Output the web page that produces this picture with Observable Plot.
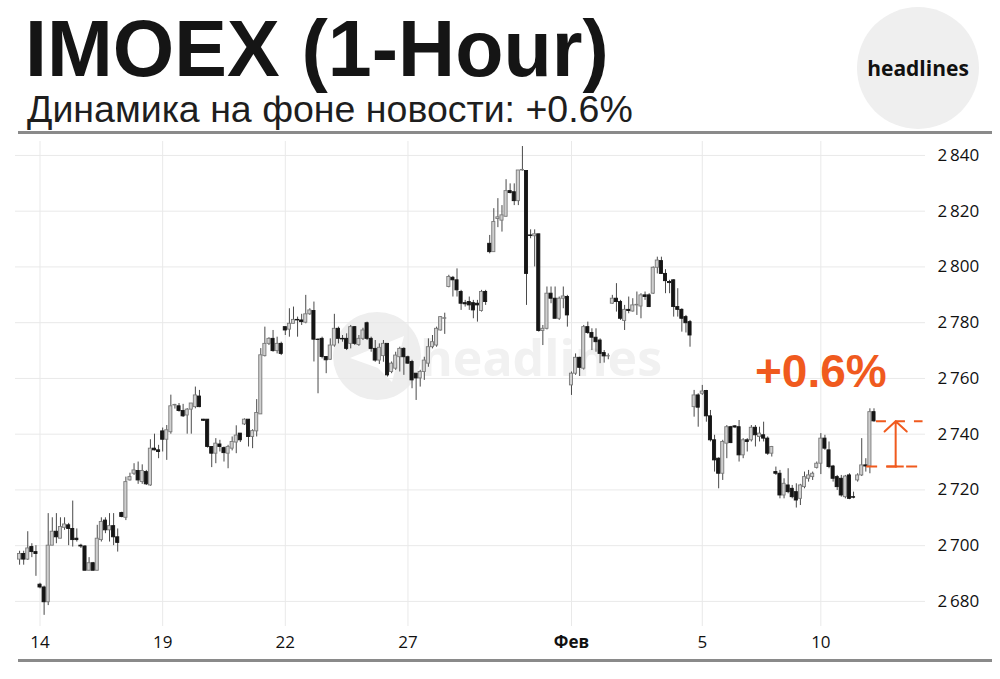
<!DOCTYPE html>
<html>
<head>
<meta charset="utf-8">
<script src="https://cdn.jsdelivr.net/npm/d3@7"></script>
<script src="https://cdn.jsdelivr.net/npm/@observablehq/plot@0.6"></script>
<style>
  body { margin: 0; background: #fff; }
  #page { position: relative; width: 1000px; height: 679px; overflow: hidden; background: #fff; font-family: "Liberation Sans", Arial, sans-serif; }
  #wm, #chart { position: absolute; left: 0; top: 0; }
  #title { position: absolute; left: 25px; top: 13px; font-size: 79px; font-weight: 700; line-height: 0.9; color: #151515; white-space: nowrap; }
  #subtitle { position: absolute; left: 27px; top: 91px; font-size: 37.5px; line-height: 1; color: #1e1e1e; white-space: nowrap; }
  .rule { position: absolute; left: 18px; width: 974px; height: 3px; background: #8a8a8a; }
  #logo { position: absolute; left: 857px; top: 7px; width: 122px; height: 122px; border-radius: 50%; background: #efefef; display: flex; align-items: center; justify-content: center; font-family: "Open Sans", sans-serif; font-weight: 700; font-size: 21px; color: #111; }
</style>
</head>
<body>
<div id="page">
  <svg id="wm" width="1000" height="679">
    <circle cx="377" cy="356" r="44" fill="#eeeeee"></circle>
    <polygon points="350,358 404,336 392,382 378,368" fill="#ffffff"></polygon>
    <text x="420" y="376" font-size="50" font-weight="700" fill="#f1f1f1" font-family="Open Sans, sans-serif">headlines</text>
  </svg>
  <div id="chart"></div>
  <div id="title">IMOEX (1-Hour)</div>
  <div id="subtitle">Динамика на фоне новости: +0.6%</div>
  <div class="rule" style="top:131px"></div>
  <div class="rule" style="top:659px"></div>
  <div id="logo">headlines</div>
</div>
<script>
// Hourly OHLC values
const open = [2695,2697,2695,2699.5,2697.7,2686,2685,2679.7,2700,2705,2702.5,2706.4,2707.3,2706,2702.5,2700,2699.7,2691,2693.7,2691,2702,2709,2705.5,2707,2703,2711.7,2710,
2723.4,2725.8,2726.8,2722.8,2726.4,2721.6,2734.8,2734.2,2741,2738,2740.7,2750.3,2750,2748.3,2746.7,2748.8,2749.7,2753.5,2745.2,2745.2,2735.4,2733,2736.3,2735,2733,2734.8,2737,2740.2,2743.5,2745.2,2739,2741,2747.1,
2768,2772.4,2774.2,2769.8,2772.4,2778.4,2777.5,2779.6,2781,2780.8,2780,2783,2784.2,2773.9,2774.2,2767.7,2766.7,2771.8,2777.8,2774.2,2774.2,2772.4,2778.4,2772,2774.2,2779.8,2774.2,2770.6,2766.4,2768,
2772.4,2762.3,2763.5,2767.6,2770.6,2767.6,2765.9,2761.7,2760,2762.3,2765.3,2771.2,2771.8,2777.2,2781.4,2792.8,2796.1,2795.2,2791,2787,2787.4,2787,2786.8,2784.2,2791,2808.3,2805.3,2817.2,2816.6,2818,
2827.2,2826.8,2823.6,2834.6,2834.4,2811.3,2811,2811.7,2777,2777.8,2790.4,2788.6,2781.4,2788.6,2789.2,2757.5,2761.7,2767.4,2763.5,2778.4,2776.3,2774.6,2773.6,2769.1,2767.9,2786.8,2788.6,2787.4,2780.6,2784.6,
2784,2786.2,2785.8,2789.8,2789.8,2790.4,2799.7,2802.1,2797.5,2794.6,2795.2,2785.6,2784.6,2782,2780.2,2749.7,2753.9,2754.5,2755.5,2746.4,2737.8,2731.2,2725.8,2736.6,2742.5,2742.8,2742.5,2732.4,2737.8,2737.8,
2742.3,2739,2739.6,2738.4,2733,2726.4,2725.8,2718,2721.6,2720.4,2719.2,2716.8,2721,2724,2724.6,2727.9,2729.4,2738.4,2734.2,2728.4,2724.6,2724,2717.4,2725.2,2717.4,2723.4,2725.2,2728.8,2728.4,2747.9];
const high = [2698,2698,2705,2700.7,2700,2686.5,2685.5,2711.5,2710,2711.5,2710,2710,2708,2716,2706,2700.5,2700,2695.7,2694,2707.3,2710,2710,2711.5,2711.5,2706,2712,2724.6,
2726,2729.4,2730,2729,2727,2738,2740,2736,2742.2,2743.1,2754,2750.7,2751,2750.7,2749.2,2751,2756.9,2755.7,2745.3,2745.2,2735.4,2738.4,2737.8,2735.4,2736,2739,2743,2740.2,2745.5,2745.2,2741.6,2752.4,2770.7,
2778.4,2774.6,2777.2,2774.8,2773,2778.4,2785,2785.6,2782,2783,2789.8,2785,2787.4,2774.2,2774.8,2767.7,2774.2,2783,2778.4,2775.4,2776,2779,2778.6,2775.4,2778,2780.2,2774.8,2773.6,2772.4,2773.6,
2772.4,2765.9,2769.4,2771.2,2771,2768,2766.5,2761.7,2762.9,2767.6,2774.2,2775.4,2778.4,2782.2,2783.4,2797,2796.6,2799.3,2791.6,2788,2789.2,2788,2788,2791.6,2791.6,2811.3,2820.9,2824.5,2822,2831.3,
2829.8,2829.8,2834.6,2843.2,2834.4,2813.3,2813.3,2811.7,2779,2792.8,2792.8,2792.8,2789.2,2792.8,2789.8,2762.3,2768.8,2767.6,2779,2780.2,2777.8,2777.8,2774.2,2770,2768.8,2789.8,2794,2788,2786.2,2789.2,
2788.6,2791,2790.4,2791,2790.4,2800,2803.5,2803.5,2799,2795.2,2795.4,2792.2,2785,2782.6,2780.8,2755.7,2754.5,2757.5,2755.7,2748.5,2739.6,2731.5,2737.8,2743.1,2742.8,2743.1,2744.9,2738.4,2738.4,2743.1,
2743.1,2742.5,2744.3,2739,2735.6,2728.2,2727,2724,2727.6,2721.6,2722.2,2722,2726.4,2727,2726.4,2730,2740.2,2739.6,2737.2,2728.8,2725.2,2725.2,2725.2,2725.8,2719.2,2725.8,2738.4,2731.2,2749.1,2749.1];
const low = [2693,2693,2694.7,2695.7,2689,2684.5,2675,2678.5,2700,2700.7,2702.5,2705.5,2700,2699.5,2701.3,2699,2691,2691,2691,2691,2701.3,2704.3,2701.3,2700,2697.7,2710,2709,
2723.2,2725.2,2722,2722,2721.6,2721.3,2734,2731.2,2733.6,2730.6,2740,2749,2747.9,2746,2740,2740,2749.1,2749.5,2744.6,2735,2728,2729.4,2733.6,2730,2727.6,2734,2733,2737,2743.1,2735.4,2734.8,2739,2747.1,
2767.7,2771.8,2769.4,2768.8,2768.2,2775.4,2774.8,2779.6,2774.8,2779,2779.6,2782.6,2765.9,2754.5,2767,2761.7,2766.5,2771.2,2772.4,2773,2770,2770.6,2771.8,2771.5,2773.6,2773.6,2769.4,2765.8,2765,2765.8,
2760.5,2761.7,2762.9,2762.3,2761.1,2765,2756.3,2752.1,2756.9,2759.3,2764,2770.6,2771.2,2777,2775.8,2792.5,2789.2,2789.2,2784.4,2785.6,2784.4,2781.4,2780.2,2783.8,2786.2,2804.7,2805.3,2814.1,2812.5,2817.9,
2826.2,2822,2822,2834.4,2786.2,2810.1,2800,2776.6,2771.8,2777.4,2786.8,2781.4,2780.8,2785,2778.4,2753.9,2761.1,2760.7,2763,2775.8,2770,2769.4,2765.3,2765.5,2766.7,2786.6,2783.8,2780.8,2777.2,2783.2,
2783.8,2782.6,2781.4,2788,2785.4,2790.1,2797.5,2797.3,2790.4,2790.4,2782,2782,2776.6,2776.3,2771.2,2746.1,2742.5,2753.9,2744.3,2737.2,2726.4,2720.4,2723.4,2731.2,2736.6,2742,2730,2731.2,2733.6,2737.2,
2735.4,2737.2,2737.2,2732.4,2731.8,2725.2,2716.8,2716.8,2718.6,2716.8,2713.5,2714.4,2720.4,2722.8,2723.4,2727.5,2725.5,2734.2,2727.6,2722.8,2719.8,2717.4,2716.8,2716.5,2716.8,2722.8,2724.8,2726.4,2725.8,2744.3];
const close = [2697,2695,2699,2697.7,2697,2685,2679.7,2700,2705,2703,2706.7,2707.6,2706,2702,2702,2699.7,2691,2693.7,2691,2702.5,2708.5,2705.5,2707,2703,2701,2710.3,2722.8,
2724.6,2727,2723.4,2726.8,2722,2734.8,2734.2,2733.6,2738,2741.4,2750,2750.5,2748.3,2746.4,2748.8,2751,2753.9,2749.7,2744.8,2735.4,2733,2736.6,2735.4,2733.2,2735.4,2737.2,2739.5,2737.8,2745.2,2739,2741.1,2747.6,2768.3,
2772.4,2774.2,2769.8,2772.4,2768.8,2777.2,2779.6,2781,2780.8,2780.2,2783,2784.4,2773.9,2773.8,2767.7,2766.5,2771.8,2777.8,2774.2,2774,2770.6,2778.4,2772.4,2774.2,2777.2,2774.2,2770.6,2766.4,2771,2772.4,
2761.1,2765.3,2768.2,2770.6,2767.6,2765.3,2759.3,2760,2762.3,2766.4,2771.2,2773,2777.8,2782,2781.6,2796.4,2795.2,2791.6,2786.8,2786.6,2786.2,2784.4,2786.2,2791,2787.4,2805.3,2816.1,2817.8,2818.5,2827.2,
2826.5,2823.6,2834.6,2834.8,2797.5,2811.1,2811.7,2777,2777.8,2790.4,2788.6,2781.4,2788.6,2789.4,2782.6,2761.7,2767.4,2763.8,2778.4,2776.3,2774.6,2773,2768.8,2767.9,2768,2788.6,2787.4,2781.4,2784.6,2784.2,
2786.2,2786.4,2789.8,2789.2,2785.6,2799.7,2802.3,2797.5,2794.9,2794.2,2785.6,2784.6,2781.4,2779.8,2775.4,2753.9,2749.5,2755.3,2746.4,2737.8,2730.6,2725.8,2737.2,2742.5,2736.8,2742.4,2732.4,2737.8,2737.2,2742.3,
2739.6,2740.2,2738.4,2733,2735.4,2725.8,2718,2722.2,2719.2,2717.4,2716.2,2721.6,2724.6,2725.2,2725.8,2729.4,2738.4,2734.8,2728.2,2724,2721,2718,2724.8,2716.8,2717.2,2725.2,2728.8,2728.4,2747.9,2744.6];

const yTicks = [2680, 2700, 2720, 2740, 2760, 2780, 2800, 2820, 2840];
const xTickBars = [5, 35, 65, 95, 135, 167, 196];
const xTickLabels = ["14", "19", "22", "27", "Фев", "5", "10"];

const candles = open.map((o, i) => ({i, open: o, high: high[i], low: low[i], close: close[i]}));
const up = candles.filter(d => d.close >= d.open);
const down = candles.filter(d => d.close < d.open);

const n = candles.length;
const last = candles[n - 1];
const base = candles[n - 3].close;        // close before the news candle
const pct = (last.close / base - 1) * 100;
const orange = "#f05a1e";
const fmtY = d => d3.format(",")(d).replace(",", "\u2009");

const chart = Plot.plot({
  width: 1000,
  height: 679,
  marginLeft: 15,
  marginRight: 75,
  marginTop: 141,
  marginBottom: 53,
  x: {domain: [-1, 221.6]},
  y: {domain: [2671, 2845]},
  style: {background: "transparent", fontFamily: "Open Sans, DejaVu Sans, sans-serif", color: "#111"},
  marks: [
    Plot.gridY(yTicks, {stroke: "#e9e9e9", strokeOpacity: 1}),
    Plot.gridX(xTickBars, {stroke: "#e9e9e9", strokeOpacity: 1}),
    Plot.ruleX(candles, {x: "i", y1: "low", y2: "high", stroke: "#4a4a4a", strokeWidth: 1}),
    Plot.rect(up, {x1: d => d.i - 0.38, x2: d => d.i + 0.38, y1: "open", y2: "close", fill: "#cfcfcf", stroke: "#7a7a7a", strokeWidth: 0.9}),
    Plot.rect(down, {x1: d => d.i - 0.38, x2: d => d.i + 0.38, y1: "open", y2: "close", fill: "#151515", stroke: "#151515", strokeWidth: 0.9}),
    Plot.axisY(yTicks, {anchor: "right", tickSize: 0, tickPadding: 12, tickFormat: fmtY, fontSize: 17}),
    Plot.axisX(xTickBars, {tickSize: 0, tickPadding: 9, tickFormat: (d, i) => xTickLabels[xTickBars.indexOf(d)], fontSize: 17}),
    // news annotation
    Plot.ruleY([last.close], {x1: last.i + 0.6, x2: last.i + 12, stroke: orange, strokeWidth: 2, strokeDasharray: "10,9"}),
    Plot.ruleY([base], {x1: last.i - 1.8, x2: last.i + 12, stroke: orange, strokeWidth: 2, strokeDasharray: "11,9"}),
    Plot.ruleY([base], {x1: last.i + 3.2, x2: last.i + 7.4, stroke: orange, strokeWidth: 2}),
    Plot.arrow([{x: last.i + 5.3, y1: base, y2: last.close}], {x1: "x", x2: "x", y1: "y1", y2: "y2", stroke: orange, strokeWidth: 2, headLength: 15, headAngle: 95}),
    Plot.text([{x: last.i - 13, y: last.high + 13, t: (pct >= 0 ? "+" : "") + pct.toFixed(1) + "%"}], {x: "x", y: "y", text: "t", fill: orange, fontSize: 46, fontWeight: 700, fontFamily: "Liberation Sans, Arial, sans-serif"})
  ]
});
document.getElementById("chart").appendChild(chart);
d3.select(chart).selectAll("text").filter(function() { return this.textContent === "Фев"; }).attr("font-weight", "bold");
</script>
</body>
</html>
